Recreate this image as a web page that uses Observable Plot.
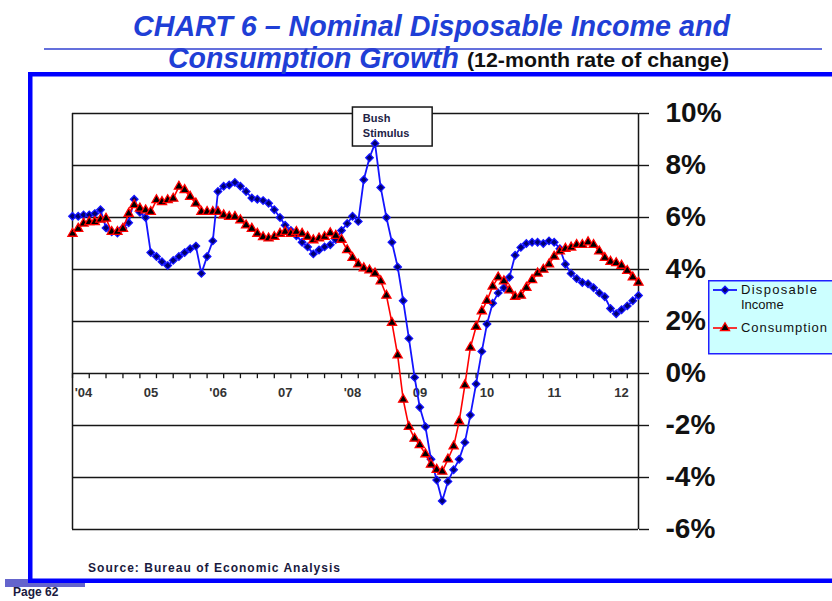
<!DOCTYPE html>
<html>
<head>
<meta charset="utf-8">
<script src="https://cdn.jsdelivr.net/npm/d3@7"></script>
<script src="https://cdn.jsdelivr.net/npm/@observablehq/plot@0.6"></script>
<style>
  html, body { margin: 0; padding: 0; background: #fff; }
  #page { position: relative; width: 832px; height: 601px; overflow: hidden; background: #fff;
          font-family: "Liberation Sans", Arial, sans-serif; }
  #chart { position: absolute; left: 0; top: 80px; }
  #overlay { position: absolute; left: 0; top: 0; pointer-events: none; }
</style>
</head>
<body>
<div id="page">
  <div id="chart"></div>
  <svg id="overlay" width="832" height="601"></svg>
</div>
<script>
// ---- data (monthly, Jan 2004 – Jun 2012, 12-month % change) ----
const startYear = 2004;
const income = [6.05, 6.05, 6.1, 6.1, 6.15, 6.3, 5.6, 5.45, 5.4, 5.6, 5.8, 6.7, 6.2, 6.0,
  4.65, 4.5, 4.3, 4.15, 4.35, 4.5, 4.65, 4.8, 4.9, 3.85, 4.5, 5.1,
  7.0, 7.2, 7.25, 7.35, 7.2, 7.0, 6.75, 6.7, 6.65, 6.55,
  6.3, 6.0, 5.7, 5.5, 5.3, 5.05, 4.87, 4.6, 4.75, 4.87, 4.95, 5.15,
  5.5, 5.77, 6.05, 5.85, 7.45, 8.3, 8.85, 7.15, 6.0, 5.05, 4.1, 2.8,
  1.35, -0.15, -1.3, -2.05, -3.3, -4.1, -4.9, -4.15, -3.7, -3.3, -2.65, -1.6,
  -0.4, 0.85, 1.9, 2.7, 3.1, 3.3, 3.7, 4.55, 4.85, 5.0, 5.05, 5.05,
  5.0, 5.1, 5.05, 4.8, 4.2, 3.85, 3.65, 3.5, 3.45, 3.3, 3.1, 2.95,
  2.5, 2.3, 2.45, 2.6, 2.8, 3.0];
const consumption = [5.38, 5.57, 5.77, 5.83, 5.83, 5.92, 5.96, 5.45, 5.45, 5.57,
  6.15, 6.48, 6.35, 6.28, 6.22, 6.67, 6.6, 6.67, 6.73, 7.19,
  7.06, 6.8, 6.54, 6.22, 6.22, 6.22, 6.22, 6.09, 6.03, 6.03,
  5.9, 5.7, 5.57, 5.38, 5.25, 5.2, 5.26, 5.38, 5.45, 5.38,
  5.45, 5.38, 5.26, 5.13, 5.2, 5.26, 5.4, 5.3, 5.15, 4.75,
  4.45, 4.2, 4.05, 3.97, 3.85, 3.55, 3.0, 1.95, 0.7, -1.0,
  -2.05, -2.5, -2.75, -3.1, -3.5, -3.7, -3.77, -3.3, -2.8, -1.84,
  -0.45, 1.0, 1.8, 2.4, 2.8, 3.35, 3.7, 3.55, 3.2, 2.95,
  3.0, 3.3, 3.6, 3.85, 4.0, 4.2, 4.5, 4.7, 4.8, 4.85,
  4.95, 4.95, 5.05, 4.95, 4.7, 4.45, 4.3, 4.25, 4.15, 3.95,
  3.7, 3.5];
const yearLabels = ["'04", "05", "'06", "07", "'08", "09", "10", "11", "12"];
const yTicks = [-6, -4, -2, 0, 2, 4, 6, 8, 10];
const seriesNames = ["Disposable", "Income", "Consumption"];
const annotationLines = ["Bush", "Stimulus"];

// ---- build table ----
const rows = income.map((v, i) => ({
  date: new Date(Date.UTC(startYear, i, 1)),
  income: v,
  consumption: consumption[i]
}));
const x0 = rows[0].date, x1 = rows[rows.length - 1].date;
const yearDates = yearLabels.map((_, k) => new Date(Date.UTC(startYear + k, 0, 1)));
const quarterDates = d3.utcMonth.every(3).range(x0, x1);

const blue = "#1414ff", navy = "#000070", red = "#ff0000", ink = "#161616";

const chart = Plot.plot({
  width: 832,
  height: 480,
  marginLeft: 72,
  marginRight: 194,
  marginTop: 33,
  marginBottom: 31,
  style: { background: "transparent", fontFamily: "'Liberation Sans', Arial, sans-serif", overflow: "visible" },
  x: { type: "utc", domain: [x0, x1], axis: null },
  y: { domain: [-6, 10], axis: "right", ticks: yTicks, tickSize: 10, tickPadding: 17,
       tickFormat: d => `${d}%`, label: null },
  marks: [
    Plot.ruleY(yTicks, { stroke: ink, strokeWidth: 1.4 }),
    Plot.ruleX([x0], { stroke: ink, strokeWidth: 1.5 }),
    Plot.ruleX([x1], { stroke: ink, strokeWidth: 1.5 }),
    Plot.ruleX(quarterDates, { y1: 0, y2: -0.2, stroke: ink, strokeWidth: 1.3 }),
    Plot.text(yearLabels, { x: (d, i) => yearDates[i], y: () => 0, text: d => d, dx: 11, dy: 19,
      fontSize: 13, fontWeight: "bold", fill: "#333" }),
    // annotation box
    Plot.rect([{ a: new Date(Date.UTC(2008, 2, 3)), b: new Date(Date.UTC(2009, 4, 10)), lo: 8.73, hi: 10.23 }],
      { x1: "a", x2: "b", y1: "lo", y2: "hi", fill: "white", stroke: ink, strokeWidth: 1.5 }),
    Plot.text(annotationLines, { x: () => new Date(Date.UTC(2008, 3, 26)), y: (d, i) => [9.81, 9.23][i], text: d => d,
      textAnchor: "start", fontSize: 11, fontWeight: "bold", fill: "#222244" }),
    // series
    Plot.line(rows, { x: "date", y: "income", stroke: blue, strokeWidth: 1.8 }),
    Plot.dot(rows, { x: "date", y: "income", symbol: "diamond2", r: 3.4, fill: navy, stroke: blue, strokeWidth: 1.3 }),
    Plot.line(rows, { x: "date", y: "consumption", stroke: red, strokeWidth: 1.6 }),
    Plot.dot(rows, { x: "date", y: "consumption", symbol: "triangle", r: 3.4, fill: "#000", stroke: red, strokeWidth: 1.3 })
  ]
});
document.getElementById("chart").appendChild(chart);

// style right axis labels
chart.querySelectorAll('[aria-label^="y-axis"] text, g[aria-label="y-axis"] text').forEach(t => {
  t.style.fontSize = "28px";
  t.style.fontWeight = "bold";
  t.style.fill = "#111";
  t.style.fontVariant = "normal";
});
chart.querySelectorAll('[aria-label^="y-axis"] path, [aria-label^="y-axis"] line').forEach(p => {
  p.style.stroke = ink; p.style.strokeWidth = "1.4";
});

// ---- overlay: titles, frame, legend, source ----
const ov = d3.select("#overlay");
const ff = "'Liberation Sans', Arial, sans-serif";
const titleBlue = "#1f3fd6";
ov.append("rect").attr("x", 5).attr("y", 579).attr("width", 80).attr("height", 8).attr("fill", "#6464cc");
ov.append("rect").attr("x", 30.25).attr("y", 74.25).attr("width", 900).attr("height", 506.5)
  .attr("fill", "none").attr("stroke", "#0000ff").attr("stroke-width", 4.5);

ov.append("text").attr("x", 133).attr("y", 36).attr("textLength", 597).attr("lengthAdjust", "spacingAndGlyphs")
  .attr("font-family", ff).attr("font-size", 30).attr("font-weight", "bold").attr("font-style", "italic")
  .attr("fill", titleBlue).text("CHART 6 \u2013 Nominal Disposable Income and");
ov.append("text").attr("x", 168).attr("y", 68).attr("textLength", 291).attr("lengthAdjust", "spacingAndGlyphs")
  .attr("font-family", ff).attr("font-size", 30).attr("font-weight", "bold").attr("font-style", "italic")
  .attr("fill", titleBlue).text("Consumption Growth");
ov.append("text").attr("x", 467).attr("y", 67).attr("textLength", 262).attr("lengthAdjust", "spacingAndGlyphs")
  .attr("font-family", ff).attr("font-size", 21).attr("font-weight", "bold")
  .attr("fill", "#111").text("(12-month rate of change)");
ov.append("line").attr("x1", 44).attr("x2", 822).attr("y1", 49).attr("y2", 49)
  .attr("stroke", "#3040d0").attr("stroke-width", 1.5);

ov.append("text").attr("x", 88).attr("y", 572).attr("textLength", 252)
  .attr("font-family", ff).attr("font-size", 12).attr("font-weight", "bold")
  .attr("fill", "#1a1a40").text("Source:  Bureau of Economic Analysis");
ov.append("text").attr("x", 13).attr("y", 596)
  .attr("font-family", ff).attr("font-size", 12).attr("font-weight", "bold")
  .attr("fill", "#1a1a40").text("Page 62");

// legend
const lg = ov.append("g");
lg.append("rect").attr("x", 708.75).attr("y", 280.75).attr("width", 200).attr("height", 73)
  .attr("fill", "#ccffff").attr("stroke", "#2020ff").attr("stroke-width", 1.5);
lg.append("line").attr("x1", 713).attr("x2", 737).attr("y1", 290).attr("y2", 290).attr("stroke", blue).attr("stroke-width", 1.8);
lg.append("path").attr("transform", "translate(725,290)").attr("d", d3.symbol(d3.symbolDiamond2, Math.PI * 3.4 * 3.4)())
  .attr("fill", navy).attr("stroke", blue).attr("stroke-width", 1.3);
lg.append("line").attr("x1", 713).attr("x2", 737).attr("y1", 328).attr("y2", 328).attr("stroke", red).attr("stroke-width", 1.6);
lg.append("path").attr("transform", "translate(725,328)").attr("d", d3.symbol(d3.symbolTriangle, Math.PI * 3.4 * 3.4)())
  .attr("fill", "#000").attr("stroke", red).attr("stroke-width", 1.3);
lg.append("text").attr("x", 741).attr("y", 294).attr("textLength", 76).attr("font-family", ff).attr("font-size", 13)
  .attr("fill", "#111").text(seriesNames[0]);
lg.append("text").attr("x", 741).attr("y", 309).attr("font-family", ff).attr("font-size", 13)
  .attr("fill", "#111").text(seriesNames[1]);
lg.append("text").attr("x", 741).attr("y", 332).attr("textLength", 86).attr("font-family", ff).attr("font-size", 13)
  .attr("fill", "#111").text(seriesNames[2]);
</script>
</body>
</html>
